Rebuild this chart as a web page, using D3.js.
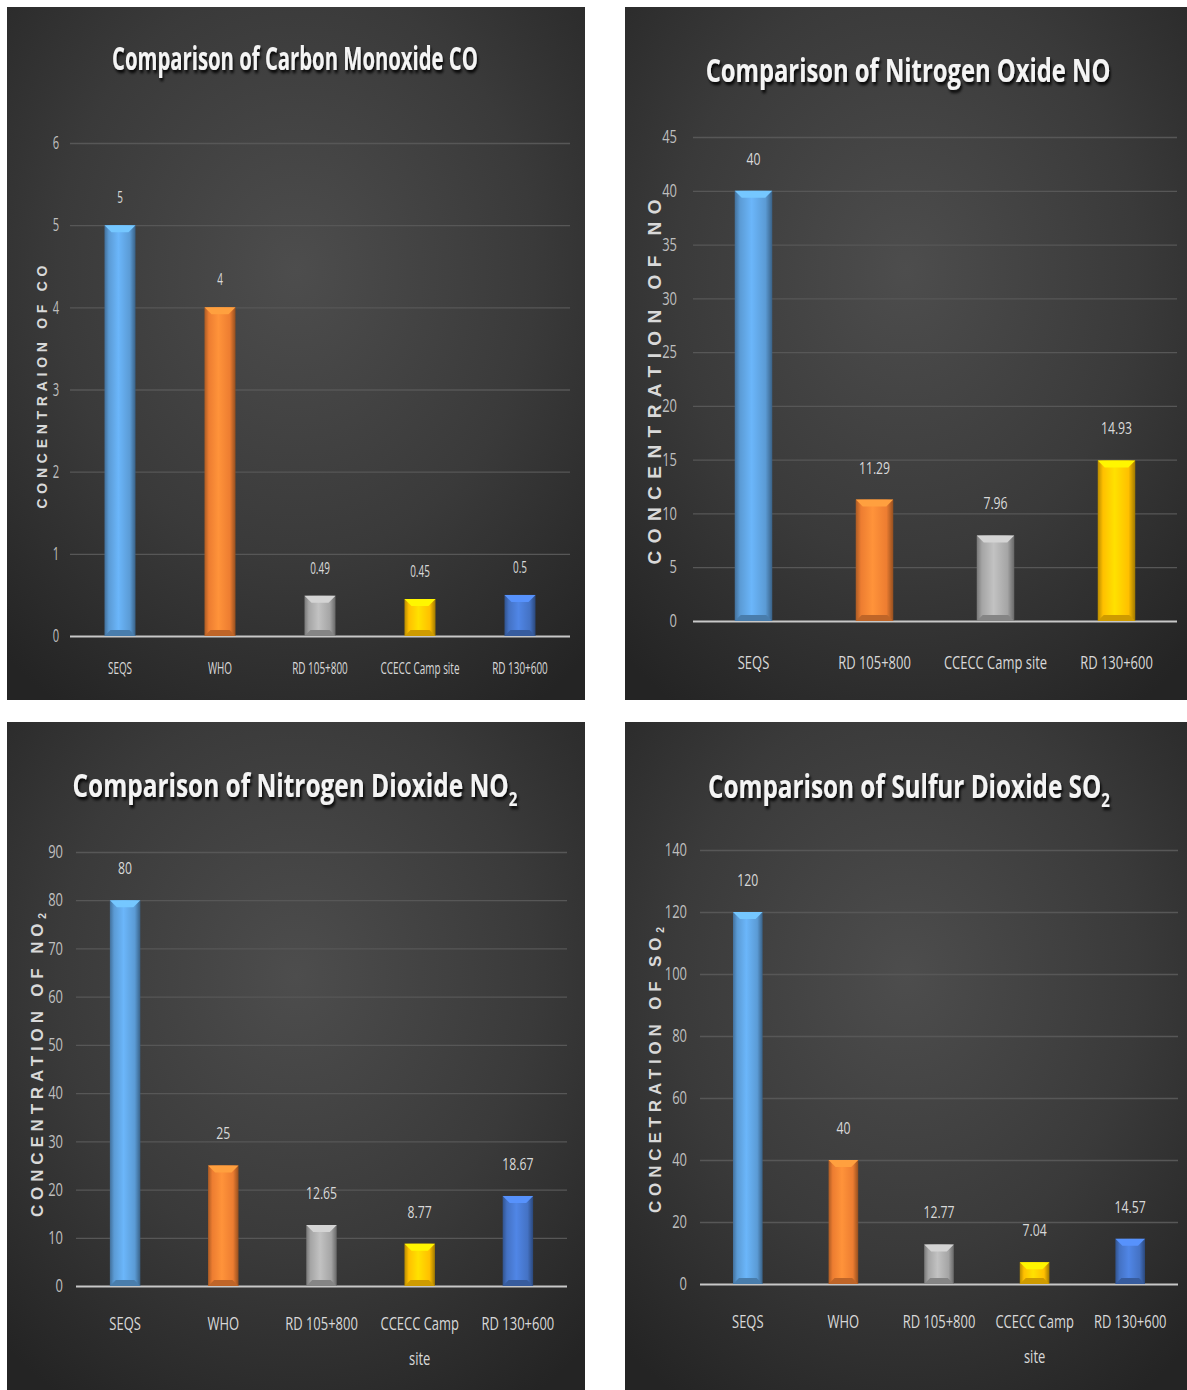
<!DOCTYPE html>
<html>
<head>
<meta charset="utf-8">
<script src="https://cdn.jsdelivr.net/npm/d3@7"></script>
<style>
  body { margin: 0; background: #fff; }
  svg text { font-family: "Open Sans", "Liberation Sans", sans-serif; }
</style>
</head>
<body>
<svg id="chart"></svg>
<script>
// ---- data ----
const coCategories = ["SEQS", "WHO", "RD 105+800", "CCECC Camp site", "RD 130+600"];
const coValues = [5, 4, 0.49, 0.45, 0.5];
const coTicks = [0, 1, 2, 3, 4, 5, 6];

const noCategories = ["SEQS", "RD 105+800", "CCECC Camp site", "RD 130+600"];
const noValues = [40, 11.29, 7.96, 14.93];
const noTicks = [0, 5, 10, 15, 20, 25, 30, 35, 40, 45];

const no2Categories = ["SEQS", "WHO", "RD 105+800", "CCECC Camp site", "RD 130+600"];
const no2Values = [80, 25, 12.65, 8.77, 18.67];
const no2Ticks = [0, 10, 20, 30, 40, 50, 60, 70, 80, 90];

const so2Categories = ["SEQS", "WHO", "RD 105+800", "CCECC Camp site", "RD 130+600"];
const so2Values = [120, 40, 12.77, 7.04, 14.57];
const so2Ticks = [0, 20, 40, 60, 80, 100, 120, 140];

const barColors = ["#5b9bd5", "#ed7d31", "#a5a5a5", "#ffc000", "#4472c4"];

const svg = d3.select("#chart").attr("width", 1187).attr("height", 1390);
const defs = svg.append("defs");

// dark chart background
const bg = defs.append("radialGradient").attr("id", "bg")
    .attr("cx", "50%").attr("cy", "38%").attr("r", "75%");
bg.append("stop").attr("offset", "0%").attr("stop-color", "#4d4d4d");
bg.append("stop").attr("offset", "55%").attr("stop-color", "#3a3a3a");
bg.append("stop").attr("offset", "100%").attr("stop-color", "#242424");

// title shadow
defs.append("filter").attr("id", "shadow")
    .attr("x", "-10%").attr("y", "-40%").attr("width", "120%").attr("height", "180%")
  .append("feDropShadow")
    .attr("dx", 2).attr("dy", 3).attr("stdDeviation", 1.6)
    .attr("flood-color", "#000").attr("flood-opacity", 0.9);

// bevelled bar fills
barColors.forEach((c, i) => {
  const g = defs.append("linearGradient").attr("id", "bar-" + i)
      .attr("x1", "0%").attr("x2", "100%").attr("y1", "0%").attr("y2", "0%");
  [[0, d3.color(c).darker(0.9)], [0.14, c], [0.45, d3.color(c).brighter(0.45)],
   [0.82, c], [1, d3.color(c).darker(1.3)]].forEach(s => {
    g.append("stop").attr("offset", s[0]).attr("stop-color", s[1]);
  });
});

class BarPanel {
  constructor(_config, _data) {
    this.config = _config;
    this.data = _data;
    this.initVis();
  }

  initVis() {
    let vis = this;
    const c = vis.config;

    vis.g = svg.append("g");
    vis.g.append("rect")
        .attr("x", c.x).attr("y", c.y)
        .attr("width", c.w).attr("height", c.h)
        .attr("fill", "url(#bg)");

    vis.xScale = d3.scaleBand()
        .domain(vis.data.categories)
        .range([c.plotLeft, c.plotRight])
        .paddingInner(0.69)
        .paddingOuter(0.345);

    vis.yScale = d3.scaleLinear()
        .domain([0, d3.max(vis.data.ticks)])
        .range([c.y0, c.yTop]);

    // gridlines + y tick labels
    vis.yAxisG = vis.g.append("g")
        .attr("transform", `translate(${c.plotLeft},0)`)
        .call(d3.axisLeft(vis.yScale)
          .tickValues(vis.data.ticks)
          .tickSize(-(c.plotRight - c.plotLeft))
          .tickPadding(c.tickPad)
          .tickFormat(d3.format("d")));
    vis.yAxisG.select(".domain").remove();
    vis.yAxisG.selectAll(".tick line")
        .attr("stroke", d => d === 0 ? "#c8c8c8" : "#575757")
        .attr("stroke-width", d => d === 0 ? 2 : 1.3);
    vis.yAxisG.selectAll(".tick text")
        .attr("fill", "#bfbfbf")
        .style("font-size", c.tickSize + "px")
        .attr("x", -c.tickPad / c.sx)
        .attr("transform", `scale(${c.sx},1)`);

    // category labels
    vis.xAxisG = vis.g.append("g")
        .attr("transform", `translate(0,${c.y0})`)
        .call(d3.axisBottom(vis.xScale).tickSize(0).tickPadding(c.labelPad));
    vis.xAxisG.select(".domain").remove();
    vis.xAxisG.selectAll(".tick text")
        .attr("fill", "#d9d9d9")
        .style("font-size", c.labelSize + "px")
        .attr("transform", `scale(${c.sx},1)`)
        .each(function(d) {
          if (!c.wrap || d.length < 13) return;
          const t = d3.select(this);
          const cut = d.lastIndexOf(" ");
          t.text(null);
          t.append("tspan").attr("x", 0).text(d.slice(0, cut));
          t.append("tspan").attr("x", 0).attr("dy", c.lineGap).text(d.slice(cut + 1));
        });

    vis.updateVis();
  }

  updateVis() {
    let vis = this;
    const c = vis.config;
    const rows = vis.data.categories.map((k, i) => ({ key: k, value: vis.data.values[i], i: i }));
    const bw = vis.xScale.bandwidth();

    const bars = vis.g.selectAll(".bar")
        .data(rows)
      .join("g")
        .attr("class", "bar");

    bars.append("rect")
        .attr("x", d => vis.xScale(d.key))
        .attr("y", d => vis.yScale(d.value))
        .attr("width", bw)
        .attr("height", d => c.y0 - vis.yScale(d.value))
        .attr("fill", d => "url(#bar-" + d.i + ")");

    // top and bottom bevels
    bars.append("path")
        .attr("fill", d => d3.color(barColors[d.i]).brighter(0.7))
        .attr("d", d => {
          const x = vis.xScale(d.key), y = vis.yScale(d.value);
          const b = Math.min(7, (c.y0 - y) / 3);
          return `M${x},${y}H${x + bw}L${x + bw - b},${y + b}H${x + b}Z`;
        });
    bars.append("path")
        .attr("fill", d => d3.color(barColors[d.i]).darker(0.6))
        .attr("d", d => {
          const x = vis.xScale(d.key), y = vis.yScale(d.value);
          const b = Math.min(6, (c.y0 - y) / 3);
          return `M${x},${c.y0}H${x + bw}L${x + bw - b},${c.y0 - b}H${x + b}Z`;
        });

    // value labels
    vis.g.selectAll(".val")
        .data(rows)
      .join("text")
        .attr("class", "val")
        .attr("text-anchor", "middle")
        .attr("fill", "#d9d9d9")
        .style("font-size", c.valueSize + "px")
        .attr("transform", d => `translate(${vis.xScale(d.key) + bw / 2},${vis.yScale(d.value) - c.valueOff}) scale(${c.sx},1)`)
        .text(d => d.value);

    // chart title, squeezed to the width seen in the picture
    const title = vis.g.append("text")
        .attr("text-anchor", "middle")
        .attr("fill", "#f4f4f4")
        .attr("font-weight", "bold")
        .attr("filter", "url(#shadow)")
        .style("font-size", c.title.size + "px")
        .text(vis.data.title);
    if (vis.data.sub) {
      title.append("tspan").attr("dy", 9).style("font-size", (c.title.size * 0.62) + "px").text(vis.data.sub);
    }
    const tw = title.node().getComputedTextLength();
    title.attr("transform", `translate(${c.title.cx},${c.title.y}) scale(${c.title.w / tw},1)`);

    // y axis title
    const yt = vis.g.append("text")
        .attr("text-anchor", "middle")
        .attr("dominant-baseline", "central")
        .attr("fill", "#d9d9d9")
        .attr("font-weight", "bold")
        .style("font-family", "'Liberation Sans', Arial, sans-serif")
        .style("font-size", c.yTitle.size + "px")
        .attr("textLength", c.yTitle.len)
        .attr("lengthAdjust", "spacing")
        .attr("transform", `translate(${c.yTitle.x},${c.yTitle.cy}) rotate(-90)`)
        .text(vis.data.yTitle);
    if (vis.data.sub) {
      yt.append("tspan").attr("dy", 5).style("font-size", (c.yTitle.size * 0.6) + "px").text(vis.data.sub);
    }
  }
}

new BarPanel({
  x: 7, y: 7, w: 578, h: 693,
  plotLeft: 70, plotRight: 570, y0: 636, yTop: 143,
  title: { cx: 295, y: 70, w: 366, size: 32 },
  yTitle: { x: 42, cy: 387, len: 243, size: 14 },
  sx: 0.62, tickSize: 18, tickPad: 11,
  labelSize: 16, labelPad: 27, valueSize: 16, valueOff: 22, wrap: false
}, { categories: coCategories, values: coValues, ticks: coTicks,
     title: "Comparison of Carbon Monoxide CO", yTitle: "CONCENTRAION  OF  CO" });

new BarPanel({
  x: 625, y: 7, w: 562, h: 693,
  plotLeft: 693, plotRight: 1177, y0: 621, yTop: 137,
  title: { cx: 908, y: 82, w: 405, size: 32 },
  yTitle: { x: 654, cy: 382, len: 365, size: 19 },
  sx: 0.72, tickSize: 18, tickPad: 16,
  labelSize: 18, labelPad: 35, valueSize: 17, valueOff: 26, wrap: false
}, { categories: noCategories, values: noValues, ticks: noTicks,
     title: "Comparison of Nitrogen Oxide NO", yTitle: "CONCENTRATION OF NO" });

new BarPanel({
  x: 7, y: 722, w: 578, h: 668,
  plotLeft: 76, plotRight: 567, y0: 1286, yTop: 852,
  title: { cx: 295, y: 797, w: 445, size: 32 },
  yTitle: { x: 37, cy: 1065, len: 304, size: 17 },
  sx: 0.72, tickSize: 18, tickPad: 13,
  labelSize: 18, labelPad: 31, valueSize: 17, valueOff: 26, wrap: true, lineGap: 35
}, { categories: no2Categories, values: no2Values, ticks: no2Ticks,
     title: "Comparison of Nitrogen Dioxide NO", sub: "2", yTitle: "CONCENTRATION  OF NO" });

new BarPanel({
  x: 625, y: 722, w: 562, h: 668,
  plotLeft: 700, plotRight: 1178, y0: 1284, yTop: 850,
  title: { cx: 909, y: 798, w: 402, size: 32 },
  yTitle: { x: 655, cy: 1070, len: 286, size: 17 },
  sx: 0.72, tickSize: 18, tickPad: 13,
  labelSize: 18, labelPad: 31, valueSize: 17, valueOff: 26, wrap: true, lineGap: 35
}, { categories: so2Categories, values: so2Values, ticks: so2Ticks,
     title: "Comparison of Sulfur Dioxide SO", sub: "2", yTitle: "CONCETRATION  OF SO" });
</script>
</body>
</html>
